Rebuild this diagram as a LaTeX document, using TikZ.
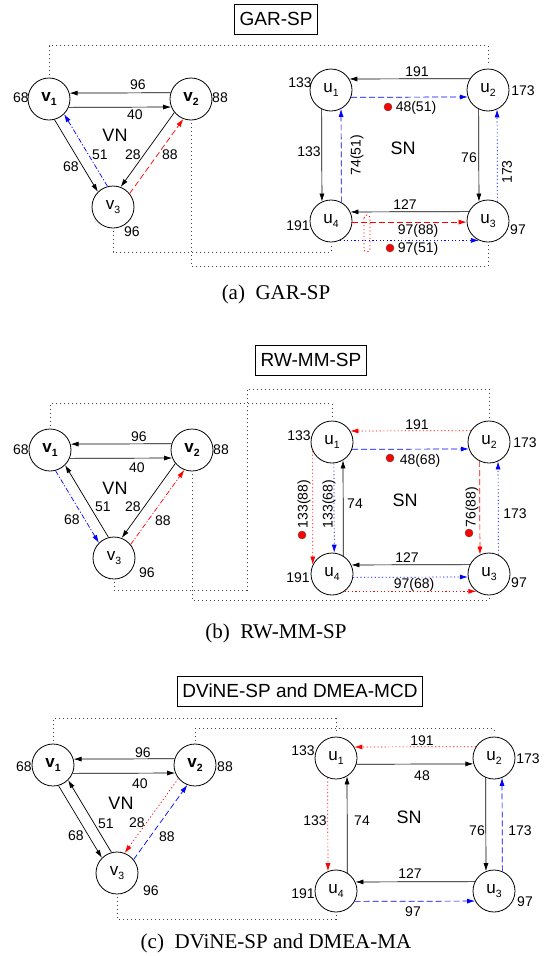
\documentclass[tikz,border=0pt]{standalone}
\usepackage{fontspec}
\setmainfont{Liberation Serif}
\newfontfamily\diagfont{Liberation Sans}
\usetikzlibrary{arrows.meta}

% node text: letter with a lowered index
\newcommand{\nlab}[2]{{\fontsize{17}{17}\selectfont #1}\raisebox{-4.5pt}{\fontsize{10.5}{10.5}\selectfont #2}}

\begin{document}
\begin{tikzpicture}[x=1pt, y=-1pt, font=\diagfont\fontsize{14}{14}\selectfont,
    >={Latex[length=8pt,width=5pt]},
    vnode/.style={circle, draw, line width=0.8pt, minimum size=42pt, inner sep=0pt},
    arr/.style={->, line width=0.7pt},
    map/.style={line width=0.9pt, black!75, dash pattern=on 1pt off 3pt, shorten <=3pt, shorten >=3pt},
    dashln/.style={dash pattern=on 6pt off 3pt},
    dotln/.style={dash pattern=on 1.2pt off 2.4pt},
    dashdotln/.style={dash pattern=on 5pt off 2pt on 1.2pt off 2pt},
    titlebox/.style={draw, line width=0.8pt, font=\diagfont\fontsize{19}{19}\selectfont, minimum height=30pt, inner xsep=5pt},
    caption/.style={font=\rmfamily\fontsize{21}{21}\selectfont, anchor=base},
    netlab/.style={font=\diagfont\fontsize{18}{18}\selectfont},
    reddot/.style={circle, fill=red, draw=black!70, line width=0.4pt, inner sep=0pt, minimum size=8pt}]
  \useasboundingbox (0,0) rectangle (549,956);

  % ---------------- (a) GAR-SP ----------------
  \node[titlebox] (ta) at (276,19) {GAR-SP};
  \node[vnode] (av1) at (49,99) {\bfseries\nlab{v}{1}};
  \node[vnode] (av2) at (191,99) {\bfseries\nlab{v}{2}};
  \node[vnode] (av3) at (113,207) {\nlab{v}{3}};
  \foreach \n/\x/\y in {1/331/90, 2/488/90, 3/488/221, 4/331/221}
    \node[vnode] (au\n) at (\x,\y) {\nlab{u}{\n}};

  \draw[arr] (av2.163.4) -- (av1.16.6);
  \draw[arr] (av1.337.6) -- (av2.202.4);
  \draw[arr] (av1.285.5) -- (av3.135.9);
  \draw[arr, blue, dashdotln] (av3.105.5) -- (av1.315.8);
  \draw[arr] (av2.219) -- (av3.69.4);
  \draw[arr, red, dashln] (av3.39) -- (av2.249.4);

  \draw[arr] (au2.148.4) -- (au1.31.6);
  \draw[arr, blue, dashln] (au1.340.5) -- (au2.199.5);
  \draw[arr] (au1.244.6) -- (au4.115.4);
  \draw[arr, blue, dashln] (au4.61.6) -- (au1.298.4);
  \draw[arr] (au2.244.6) -- (au3.115.4);
  \draw[arr, blue, dotln] (au3.64.6) -- (au2.295.4);
  \draw[arr] (au3.154.6) -- (au4.25.4);
  \draw[arr, red, dashln] (au4.357) -- (au3.183);
  \draw[arr, blue, dotln] (au4.295) -- (au3.245);
  \draw[red, dotln, line width=0.8pt, rounded corners=3pt] (364,215) rectangle (370,252);

  \draw[map] (av1.north) -- ++(0,-32) -| (au2.north);
  \draw[map] (av3.south) -- ++(0,24) -| (au4.south);
  \draw[map] (av2.south) -- ++(0,146) -| (au3.south);

  \node (awv1) at (21,98) {68};
  \node (awv2) at (220,98) {88};
  \node (awv3) at (132,232) {96};
  \node[netlab] (avn) at (115,135) {VN};
  \node (ae96) at (138,85) {96};
  \node (ae40) at (135,115) {40};
  \node (ae68) at (71,167) {68};
  \node (ae51) at (100,155) {51};
  \node (ae28) at (133,155) {28};
  \node (ae88) at (170,155) {88};
  \node (awu1) at (300,83) {133};
  \node (awu2) at (523,91) {173};
  \node (awu3) at (518,230) {97};
  \node (awu4) at (298,226) {191};
  \node[netlab] (asn) at (403,148) {SN};
  \node (al191) at (417,72) {191};
  \node[reddot] (ad1) at (388,107) {};
  \node (al48) at (416,108) {48(51)};
  \node (al133) at (309,152) {133};
  \node[rotate=90] (al74) at (357,155) {74(51)};
  \node (al76) at (469,158) {76};
  \node[rotate=90] (al173) at (507,172) {173};
  \node (al127) at (405,205) {127};
  \node (al97a) at (418,231) {97(88)};
  \node[reddot] (ad2) at (390,248) {};
  \node (al97b) at (418,249) {97(51)};
  \node[caption] (capa) at (276,299) {(a)\ \ GAR-SP};

  % ---------------- (b) RW-MM-SP ----------------
  \node[titlebox] (tb) at (311,360) {RW-MM-SP};
  \node[vnode] (bv1) at (50,450) {\bfseries\nlab{v}{1}};
  \node[vnode] (bv2) at (192,450) {\bfseries\nlab{v}{2}};
  \node[vnode] (bv3) at (114,558) {\nlab{v}{3}};
  \foreach \n/\x/\y in {1/332/442, 2/489/442, 3/489/574, 4/332/574}
    \node[vnode] (bu\n) at (\x,\y) {\nlab{u}{\n}};

  \draw[arr] (bv2.163.4) -- (bv1.16.6);
  \draw[arr] (bv1.337.6) -- (bv2.202.4);
  \draw[arr, blue, dashdotln] (bv1.285.5) -- (bv3.135.9);
  \draw[arr] (bv3.105.5) -- (bv1.315.8);
  \draw[arr] (bv2.219) -- (bv3.69.4);
  \draw[arr, red, dashdotln] (bv3.39) -- (bv2.249.4);

  \draw[arr, red, dotln] (bu2.148.4) -- (bu1.31.6);
  \draw[arr, blue, dashln] (bu1.340.5) -- (bu2.199.5);
  \draw[arr, red, dotln] (bu1.205.2) -- (bu4.154.8);
  \draw[arr, blue, dotln] (bu1.275.5) -- (bu4.84.5);
  \draw[arr] (bu4.58.4) -- (bu1.301.6);
  \draw[arr, red, dashln] (bu2.244.6) -- (bu3.115.4);
  \draw[arr, blue, dotln] (bu3.64.6) -- (bu2.295.4);
  \draw[arr] (bu3.154.6) -- (bu4.25.4);
  \draw[arr, blue, dotln] (bu4.351.8) -- (bu3.188.2);
  \draw[arr, red, dotln] (bu4.306) -- (bu3.234);

  \draw[map] (bv1.north) -- ++(0,-25) -| (bu1.north);
  \draw[map] (bv3.south) -- ++(0,11) -| ++(133,-201) -| (bu2.north);
  \draw[map] (bv2.south) -- ++(0,129) -| (bu3.south);

  \node (bwv1) at (21,450) {68};
  \node (bwv2) at (221,450) {88};
  \node (bwv3) at (147,573) {96};
  \node[netlab] (bvn) at (115,488) {VN};
  \node (be96) at (139,437) {96};
  \node (be40) at (137,468) {40};
  \node (be68) at (72,520) {68};
  \node (be51) at (103,507) {51};
  \node (be28) at (133,507) {28};
  \node (be88) at (163,521) {88};
  \node (bwu1) at (299,436) {133};
  \node (bwu2) at (525,443) {173};
  \node (bwu3) at (519,583) {97};
  \node (bwu4) at (298,578) {191};
  \node[netlab] (bsn) at (405,500) {SN};
  \node (bl191) at (417,425) {191};
  \node[reddot] (bd1) at (390,458) {};
  \node (bl48) at (420,461) {48(68)};
  \node[rotate=90] (bl133a) at (304,504) {133(88)};
  \node[reddot] (bd2) at (302,535) {};
  \node[rotate=90] (bl133b) at (329,504) {133(68)};
  \node (bl74) at (355,504) {74};
  \node[rotate=90] (bl76) at (472,507) {76(88)};
  \node[reddot] (bd3) at (469,533) {};
  \node (bl173) at (515,514) {173};
  \node (bl127) at (407,558) {127};
  \node (bl97) at (414,585) {97(68)};
  \node[caption] (capb) at (276,638) {(b)\ \ RW-MM-SP};

  % ---------------- (c) DViNE-SP and DMEA-MCD ----------------
  \node[titlebox] (tc) at (300,691) {DViNE-SP and DMEA-MCD};
  \node[vnode] (cv1) at (53,765) {\bfseries\nlab{v}{1}};
  \node[vnode] (cv2) at (195,765) {\bfseries\nlab{v}{2}};
  \node[vnode] (cv3) at (117,873) {\nlab{v}{3}};
  \foreach \n/\x/\y in {1/336/758, 2/494/758, 3/494/891, 4/336/891}
    \node[vnode] (cu\n) at (\x,\y) {\nlab{u}{\n}};

  \draw[arr] (cv2.163.4) -- (cv1.16.6);
  \draw[arr] (cv1.337.6) -- (cv2.202.4);
  \draw[arr] (cv1.285.5) -- (cv3.135.9);
  \draw[arr] (cv3.105.5) -- (cv1.315.8);
  \draw[arr, red, dotln] (cv2.219) -- (cv3.69.4);
  \draw[arr, blue, dashln] (cv3.39) -- (cv2.249.4);

  \draw[arr, red, dotln] (cu2.148.4) -- (cu1.31.6);
  \draw[arr] (cu1.343.4) -- (cu2.196.6);
  \draw[arr, red, dotln] (cu1.247.6) -- (cu4.112.4);
  \draw[arr] (cu4.58.4) -- (cu1.301.6);
  \draw[arr] (cu2.247.6) -- (cu3.112.4);
  \draw[arr, blue, dashln] (cu3.67.6) -- (cu2.292.4);
  \draw[arr] (cu3.154.6) -- (cu4.25.4);
  \draw[arr, blue, dashln] (cu4.331.6) -- (cu3.208.4);

  \draw[map] (cv1.north) -- ++(0,-25) -| (cu1.north);
  \draw[map] (cv2.north) -- ++(0,-15) -| (cu2.north);
  \draw[map] (cv3.south) -- ++(0,25) -| (cu4.south);

  \node (cwv1) at (24,767) {68};
  \node (cwv2) at (225,767) {88};
  \node (cwv3) at (151,891) {96};
  \node[netlab] (cvn) at (121,803) {VN};
  \node (ce96) at (143,753) {96};
  \node (ce40) at (140,784) {40};
  \node (ce68) at (76,836) {68};
  \node (ce51) at (106,824) {51};
  \node (ce28) at (137,823) {28};
  \node (ce88) at (167,837) {88};
  \node (cwu1) at (303,751) {133};
  \node (cwu2) at (528,759) {173};
  \node (cwu3) at (525,902) {97};
  \node (cwu4) at (303,894) {191};
  \node[netlab] (csn) at (409,817) {SN};
  \node (cl191) at (422,741) {191};
  \node (cl48) at (422,776) {48};
  \node (cl133) at (315,821) {133};
  \node (cl74) at (362,821) {74};
  \node (cl76) at (477,831) {76};
  \node (cl173) at (520,831) {173};
  \node (cl127) at (410,874) {127};
  \node (cl97) at (413,912) {97};
  \node[caption] (capc) at (276,948) {(c)\ \ DViNE-SP and DMEA-MA};
\end{tikzpicture}
\end{document}
